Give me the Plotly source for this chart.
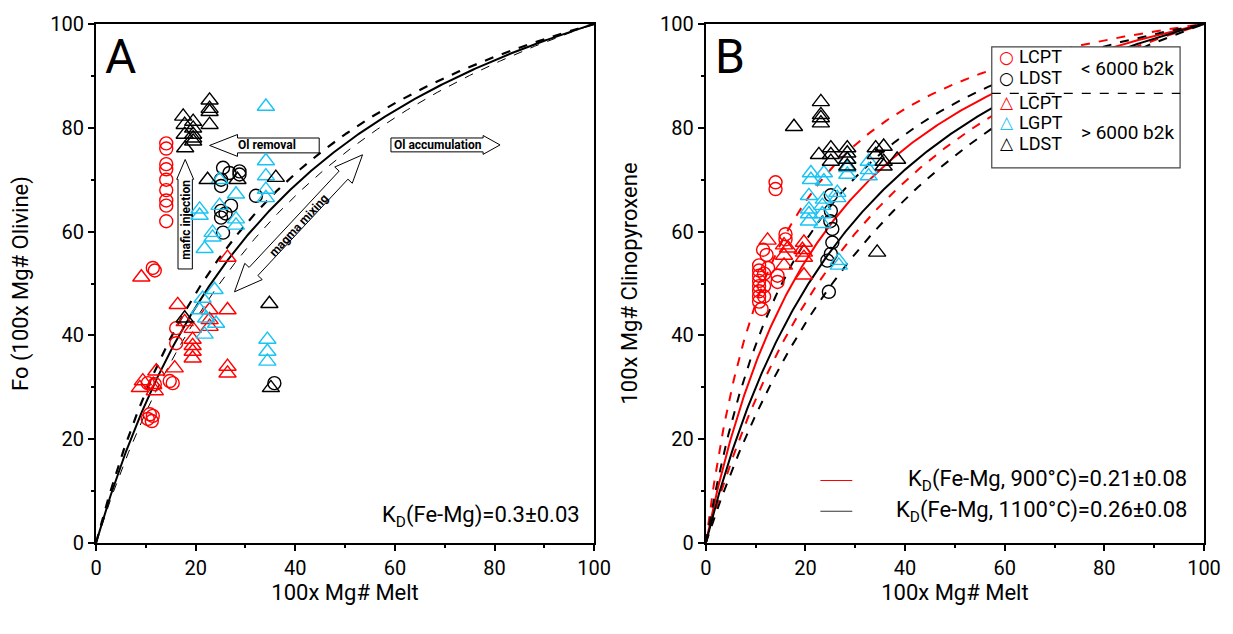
import numpy as np
import plotly.graph_objects as go

# ---------------- data ----------------
# Panel A (olivine)
A_lcpt_circ_x = [14.1, 14.1, 14.1, 14.1, 14.1, 14.1, 14.1, 14.1, 14.1, 11.4, 11.8, 16.1, 16.1, 10.4, 11.8, 14.8, 15.4, 10.8, 10.4, 11.4, 11.2]
A_lcpt_circ_y = [77, 76, 73, 72, 70, 68, 66, 65, 62, 53, 52.5, 41.4, 38.5, 30.8, 30.6, 31.2, 30.8, 24.8, 23.9, 24.5, 23.5]
A_lcpt_tri_x = [9.1, 16.4, 19.4, 22.8, 26.4, 22.8, 19.4, 19.4, 19.4, 26.4, 26.4, 9.4, 8.8, 11.8, 12.1, 15.8, 26.4, 17.8, 19.4, 22.8, 11.5]
A_lcpt_tri_y = [51.2, 45.9, 41.3, 44.9, 44.9, 41.7, 39.2, 36.9, 35.6, 34.0, 32.7, 31.2, 29.9, 29.3, 33.1, 33.7, 55.0, 42.6, 38.0, 43.0, 30.5]
A_lgpt_tri_x = [34.1, 34.1, 34.1, 34.1, 34.1, 24.8, 24.8, 28.1, 28.1, 28.1, 20.8, 20.8, 23.4, 23.4, 21.8, 23.8, 21.4, 20.8, 22.1, 24.1, 21.8, 34.4, 34.4, 34.4]
A_lgpt_tri_y = [84.1, 73.6, 70.7, 68.1, 66.5, 70.0, 65.0, 67.2, 62.4, 61.2, 64.3, 63.1, 59.8, 58.9, 56.7, 48.8, 47.1, 44.9, 43.3, 42.3, 40.2, 39.2, 36.9, 35.0]
A_ldst_tri_x = [17.5, 17.8, 17.8, 17.9, 19.5, 19.5, 19.5, 19.5, 19.5, 22.8, 22.8, 22.8, 22.8, 22.4, 28.4, 36.1, 34.8, 35.1, 17.8]
A_ldst_tri_y = [82.2, 80.6, 78.7, 76.1, 81.2, 79.9, 78.7, 78.0, 77.4, 85.3, 83.7, 83.1, 80.6, 70.0, 70.0, 70.4, 46.1, 29.9, 43.3]
A_ldst_circ_x = [25.5, 26.8, 28.8, 25.1, 27.1, 25.1, 25.1, 25.5, 32.1, 25.1, 35.8, 28.8, 26.0]
A_ldst_circ_y = [72.3, 71.3, 71.6, 68.8, 65.0, 64.0, 62.7, 59.8, 66.9, 70.0, 30.8, 71.0, 63.5]

# Panel B (clinopyroxene)
B_lcpt_circ_x = [10.7, 10.7, 10.7, 10.7, 10.7, 10.7, 10.7, 10.7, 11.2, 11.7, 11.7, 11.7, 12.2, 12.5, 14.4, 14.4, 14.0, 14.0, 16.0, 16.0, 11.5]
B_lcpt_circ_y = [53.5, 52.5, 51.5, 50.5, 49.5, 48.5, 47.5, 46.5, 45.1, 51.9, 49.5, 47.5, 55.5, 53.0, 50.3, 51.5, 69.5, 68.2, 59.5, 58.5, 56.5]
B_lcpt_tri_x = [12.4, 15.7, 15.7, 15.7, 19.7, 19.7, 19.7, 19.7, 19.4, 16.5]
B_lcpt_tri_y = [58.3, 57.4, 55.4, 53.5, 57.9, 56.0, 55.0, 51.6, 56.5, 56.8]
B_lgpt_tri_x = [21.1, 21.1, 23.7, 23.7, 28.4, 28.4, 28.4, 32.7, 32.7, 32.7, 20.7, 26.4, 23.7, 20.7, 20.7, 23.4, 23.4, 26.4, 26.7, 26.7, 20.7, 23.4]
B_lgpt_tri_y = [71.3, 70.0, 71.3, 69.7, 73.9, 72.3, 71.0, 73.5, 71.9, 70.7, 66.9, 67.5, 66.2, 64.3, 63.4, 65.0, 63.4, 66.5, 54.4, 53.5, 62.0, 61.5]
B_ldst_tri_x = [23.1, 23.1, 23.1, 23.1, 17.7, 22.7, 25.1, 25.1, 25.1, 28.4, 28.4, 28.4, 28.4, 34.1, 35.7, 35.7, 38.4, 35.7, 34.1, 34.4]
B_ldst_tri_y = [85.0, 82.5, 81.9, 80.9, 80.2, 74.8, 76.1, 74.8, 73.5, 76.1, 75.1, 73.9, 72.6, 76.1, 76.4, 73.5, 73.9, 72.6, 74.8, 56.0]
B_ldst_circ_x = [25.1, 25.4, 25.4, 25.1, 24.4, 24.7, 25.1, 25.0]
B_ldst_circ_y = [64.0, 60.5, 57.9, 55.7, 54.4, 48.4, 67.0, 62.0]

# partition coefficients
KD_OL = 0.30
KD_OL_ERR = 0.03
KD_CPX_900 = 0.21
KD_CPX_1100 = 0.26
KD_CPX_ERR = 0.08

TICKS = [0, 20, 40, 60, 80, 100]

# legend rows: (symbol, colour, label)
LEGEND_ROWS = [("○", "#ff0000", "LCPT"), ("○", "#000000", "LDST"),
               ("△", "#ff0000", "LCPT"), ("△", "#19c3f3", "LGPT"), ("△", "#000000", "LDST")]
AGE_LABELS = ["< 6000 b2k", "> 6000 b2k"]

RED = "#ff0000"
CYAN = "#19c3f3"
BLACK = "#000000"
FONT = "Roboto, 'DejaVu Sans', sans-serif"

W, H = 1233, 634
ML, MR, MT, MB = 96, 25, 20, 91
PW, PH = W - ML - MR, H - MT - MB


def mineral_mg(x, kd):
    x = np.asarray(x, dtype=float)
    return 100 * x / (x + kd * (100 - x))


xc = np.linspace(0, 100, 401)

fig = go.Figure()

# ---------- Panel A curves ----------
fig.add_trace(go.Scatter(x=xc, y=mineral_mg(xc, KD_OL - KD_OL_ERR), mode="lines",
                         line=dict(color=BLACK, width=2.2, dash="dash"), showlegend=False, xaxis="x", yaxis="y"))
fig.add_trace(go.Scatter(x=xc, y=mineral_mg(xc, KD_OL), mode="lines",
                         line=dict(color=BLACK, width=2), showlegend=False, xaxis="x", yaxis="y"))
fig.add_trace(go.Scatter(x=xc, y=mineral_mg(xc, KD_OL + KD_OL_ERR), mode="lines",
                         line=dict(color=BLACK, width=1, dash="dash"), showlegend=False, xaxis="x", yaxis="y"))

# ---------- Panel B curves ----------
for kd, col in [(KD_CPX_900, RED), (KD_CPX_1100, BLACK)]:
    fig.add_trace(go.Scatter(x=xc, y=mineral_mg(xc, kd - KD_CPX_ERR), mode="lines",
                             line=dict(color=col, width=2, dash="dash"), showlegend=False, xaxis="x2", yaxis="y2"))
    fig.add_trace(go.Scatter(x=xc, y=mineral_mg(xc, kd), mode="lines",
                             line=dict(color=col, width=2), showlegend=False, xaxis="x2", yaxis="y2"))
    fig.add_trace(go.Scatter(x=xc, y=mineral_mg(xc, kd + KD_CPX_ERR), mode="lines",
                             line=dict(color=col, width=2, dash="dash"), showlegend=False, xaxis="x2", yaxis="y2"))


def pts(x, y, sym, col, ax):
    size = 13 if "circle" in sym else 15
    return go.Scatter(x=x, y=y, mode="markers", showlegend=False,
                      marker=dict(symbol=sym, size=size, color=col, line=dict(color=col, width=1.4)),
                      xaxis="x" if ax == 1 else "x2", yaxis="y" if ax == 1 else "y2")


# Panel A points
fig.add_trace(pts(A_lcpt_circ_x, A_lcpt_circ_y, "circle-open", RED, 1))
fig.add_trace(pts(A_ldst_circ_x, A_ldst_circ_y, "circle-open", BLACK, 1))
fig.add_trace(pts(A_lcpt_tri_x, A_lcpt_tri_y, "triangle-up-open", RED, 1))
fig.add_trace(pts(A_lgpt_tri_x, A_lgpt_tri_y, "triangle-up-open", CYAN, 1))
fig.add_trace(pts(A_ldst_tri_x, A_ldst_tri_y, "triangle-up-open", BLACK, 1))

# Panel B points
fig.add_trace(pts(B_lcpt_circ_x, B_lcpt_circ_y, "circle-open", RED, 2))
fig.add_trace(pts(B_ldst_circ_x, B_ldst_circ_y, "circle-open", BLACK, 2))
fig.add_trace(pts(B_lcpt_tri_x, B_lcpt_tri_y, "triangle-up-open", RED, 2))
fig.add_trace(pts(B_lgpt_tri_x, B_lgpt_tri_y, "triangle-up-open", CYAN, 2))
fig.add_trace(pts(B_ldst_tri_x, B_ldst_tri_y, "triangle-up-open", BLACK, 2))

# ---------- axes ----------
xdomA = [0, 500 / PW]
xdomB = [612 / PW, 1]
axis_common = dict(range=[0, 100], tickvals=TICKS, ticks="outside", ticklen=6, tickwidth=2,
                   tickcolor=BLACK, showline=True, linewidth=2, linecolor=BLACK, mirror=True,
                   showgrid=False, zeroline=False,
                   minor=dict(tickvals=[10, 30, 50, 70, 90], ticks="outside", ticklen=3, tickwidth=1.5, tickcolor=BLACK),
                   tickfont=dict(family=FONT, size=20, color=BLACK))
title_font = dict(family=FONT, size=22, color=BLACK)

fig.update_layout(
    xaxis=dict(domain=xdomA, anchor="y", title=dict(text="100x Mg# Melt", font=title_font, standoff=2), **axis_common),
    yaxis=dict(domain=[0, 1], anchor="x", title=dict(text="Fo (100x Mg# Olivine)", font=title_font, standoff=16), **axis_common),
    xaxis2=dict(domain=xdomB, anchor="y2", title=dict(text="100x Mg# Melt", font=title_font, standoff=2), **axis_common),
    yaxis2=dict(domain=[0, 1], anchor="x2", title=dict(text="100x Mg# Clinopyroxene", font=title_font, standoff=16), **axis_common),
    width=W, height=H,
    margin=dict(l=ML, r=MR, t=MT, b=MB),
    paper_bgcolor="white", plot_bgcolor="white",
    font=dict(family=FONT, color=BLACK),
    showlegend=False,
)

# ---------- block arrows in panel A ----------
SX = 500 / 100.0
SY = 523 / 100.0


def to_px(p):
    return np.array([p[0] * SX, -p[1] * SY])


def to_data(q):
    return (q[0] / SX, -q[1] / SY)


def block_arrow(tail, tip, sw, hw, hl, double=False):
    a, b = to_px(tail), to_px(tip)
    u = (b - a) / np.linalg.norm(b - a)
    n = np.array([-u[1], u[0]])
    b2 = b - u * hl
    if double:
        b1 = a + u * hl
        poly = [a, b1 + n * hw, b1 + n * sw, b2 + n * sw, b2 + n * hw, b,
                b2 - n * hw, b2 - n * sw, b1 - n * sw, b1 - n * hw]
    else:
        poly = [a + n * sw, b2 + n * sw, b2 + n * hw, b, b2 - n * hw, b2 - n * sw, a - n * sw]
    d = [to_data(q) for q in poly]
    return "M " + " L ".join(f"{x:.3f},{y:.3f}" for x, y in d) + " Z"


arrows = [
    ((44.8, 76.6), (22.8, 76.6), 7.5, 11, 28, False),
    ((59.2, 76.7), (81.1, 76.7), 7, 9.5, 17, False),
    ((17.9, 52.8), (17.9, 73.9), 7.2, 8.5, 20, False),
    ((27.8, 48.4), (53.5, 74.8), 6, 12, 28, True),
]
for tail, tip, sw, hw, hl, dbl in arrows:
    fig.add_shape(type="path", path=block_arrow(tail, tip, sw, hw, hl, dbl), xref="x", yref="y",
                  line=dict(color=BLACK, width=1), fillcolor="white", layer="below")

arrow_font = dict(family=FONT, size=12, color=BLACK, weight="bold")
fig.add_annotation(x=34.3, y=76.6, xref="x", yref="y", text="Ol removal", showarrow=False, font=arrow_font)
fig.add_annotation(x=68.6, y=76.7, xref="x", yref="y", text="Ol accumulation", showarrow=False, font=arrow_font)
fig.add_annotation(x=17.9, y=62.3, xref="x", yref="y", text="mafic injection", showarrow=False, font=arrow_font, textangle=-90)
fig.add_annotation(x=40.8, y=61.2, xref="x", yref="y", text="magma mixing", showarrow=False, font=arrow_font, textangle=-47)


def px2paper_x(px):
    return (px - ML) / PW


def py2paper_y(py):
    return (MT + PH - py) / PH


# panel letters
for px in (103, 715):
    fig.add_annotation(x=px2paper_x(px), y=py2paper_y(22), xref="paper", yref="paper", text="A" if px < 500 else "B",
                       showarrow=False, xanchor="left", yanchor="top",
                       font=dict(family=FONT, size=48, color=BLACK))

# Kd label panel A
fig.add_annotation(x=97.5, y=5.2, xref="x", yref="y", text="K<sub>D</sub>(Fe-Mg)=0.3±0.03", showarrow=False,
                   xanchor="right", yanchor="middle", font=dict(family=FONT, size=22, color=BLACK))

# Kd legend panel B
for py, col, txt in [(480, RED, "K<sub>D</sub>(Fe-Mg, 900°C)=0.21±0.08"),
                     (511, "#333333", "K<sub>D</sub>(Fe-Mg, 1100°C)=0.26±0.08")]:
    fig.add_shape(type="line", xref="paper", yref="paper", x0=px2paper_x(823), x1=px2paper_x(855),
                  y0=py2paper_y(py), y1=py2paper_y(py), line=dict(color=col, width=1.2))
    fig.add_annotation(x=px2paper_x(1193), y=py2paper_y(py), xref="paper", yref="paper", text=txt,
                       showarrow=False, xanchor="right", yanchor="middle", font=dict(family=FONT, size=22, color=BLACK))

# marker legend box
fig.add_shape(type="rect", xref="paper", yref="paper", x0=px2paper_x(995), x1=px2paper_x(1184),
              y0=py2paper_y(165), y1=py2paper_y(43), line=dict(color="#444444", width=1.2), fillcolor="white")
fig.add_shape(type="line", xref="paper", yref="paper", x0=px2paper_x(995), x1=px2paper_x(1184),
              y0=py2paper_y(90), y1=py2paper_y(90), line=dict(color=BLACK, width=1.2, dash="dash"))
row_py = [53, 74, 99, 119, 140]
for (sym, col, lab), py in zip(LEGEND_ROWS, row_py):
    fig.add_annotation(x=px2paper_x(1010), y=py2paper_y(py), xref="paper", yref="paper", text=sym,
                       showarrow=False, xanchor="center", yanchor="middle",
                       font=dict(family="'DejaVu Sans', sans-serif", size=17, color=col, weight="bold"))
    fig.add_annotation(x=px2paper_x(1020), y=py2paper_y(py), xref="paper", yref="paper", text=lab,
                       showarrow=False, xanchor="left", yanchor="middle",
                       font=dict(family=FONT, size=18, color=BLACK))
for lab, py in zip(AGE_LABELS, [65, 129]):
    fig.add_annotation(x=px2paper_x(1083), y=py2paper_y(py), xref="paper", yref="paper", text=lab,
                       showarrow=False, xanchor="left", yanchor="middle",
                       font=dict(family=FONT, size=19, color=BLACK))

fig.write_html("out.html")
